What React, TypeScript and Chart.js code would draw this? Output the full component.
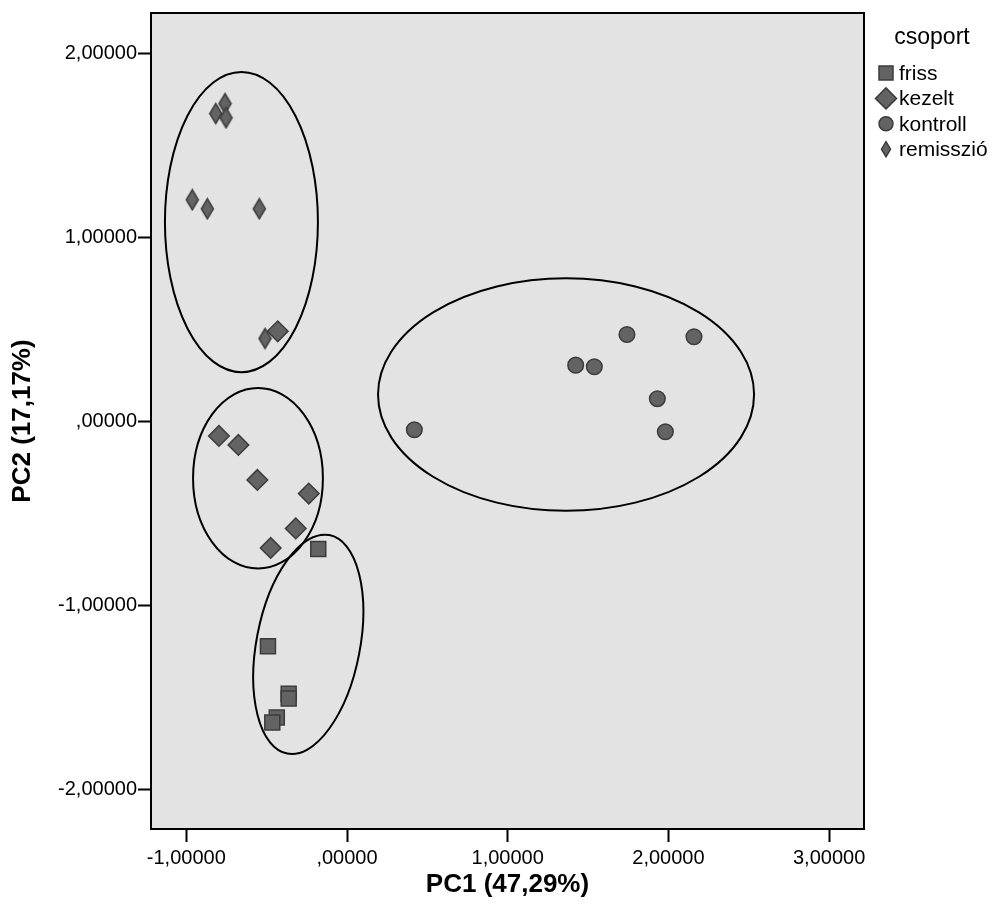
import React, { useEffect, useRef } from 'react';
import { Chart, registerables } from 'chart.js';

Chart.register(...registerables);

// ---- data ----
const groupNames = ['friss', 'kezelt', 'kontroll', 'remisszió'];
const legendTitle = 'csoport';

const frissX = [-0.179, -0.492, -0.363, -0.363, -0.437, -0.465];
const frissY = [-0.694, -1.223, -1.481, -1.508, -1.611, -1.638];

const kezeltX = [-0.431, -0.797, -0.676, -0.558, -0.238, -0.319, -0.475];
const kezeltY = [0.489, -0.080, -0.129, -0.319, -0.393, -0.583, -0.689];

const kontrollX = [0.419, 1.423, 1.539, 1.742, 2.159, 1.931, 1.981];
const kontrollY = [-0.046, 0.305, 0.296, 0.472, 0.459, 0.122, -0.057];

const remisszioX = [-0.759, -0.817, -0.753, -0.963, -0.869, -0.546, -0.510];
const remisszioY = [1.727, 1.673, 1.650, 1.204, 1.155, 1.155, 0.450];

const xTickValues = [-1, 0, 1, 2, 3];
const xTickLabels = ['-1,00000', ',00000', '1,00000', '2,00000', '3,00000'];
const yTickValues = [-2, -1, 0, 1, 2];
const yTickLabels = ['-2,00000', '-1,00000', ',00000', '1,00000', '2,00000'];
const xRange = [-1.2197, 3.217];
const yRange = [-2.217, 2.2196];
const xTitle = 'PC1 (47,29%)';
const yTitle = 'PC2 (17,17%)';

// ellipses (data units; rotation in degrees on screen)
const ellipseCx = [-0.657, -0.554, -0.241, 1.363];
const ellipseCy = [1.083, -0.31, -1.213, 0.145];
const ellipseRx = [0.476, 0.404, 0.322, 1.17];
const ellipseRy = [0.816, 0.491, 0.605, 0.632];
const ellipseRot = [0, 0, 10.9, 0];

// ---- styles ----
const FONT = '"Liberation Sans", Arial, Helvetica, sans-serif';
const FILL = '#636363';
const BORDER = '#3c3c3c';
const PLOT_BG = '#e3e3e3';

function toPoints(xs: number[], ys: number[]) {
  return xs.map((x, i) => ({ x, y: ys[i] }));
}

function makeThinDiamond(w: number, h: number): HTMLCanvasElement {
  const c = document.createElement('canvas');
  c.width = w + 3;
  c.height = h + 3;
  const g = c.getContext('2d')!;
  const cx = c.width / 2;
  const cy = c.height / 2;
  g.beginPath();
  g.moveTo(cx, cy - h / 2);
  g.lineTo(cx + w / 2, cy);
  g.lineTo(cx, cy + h / 2);
  g.lineTo(cx - w / 2, cy);
  g.closePath();
  g.fillStyle = FILL;
  g.fill();
  g.lineWidth = 1.5;
  g.strokeStyle = BORDER;
  g.stroke();
  return c;
}

function drawLegendSymbol(ctx: CanvasRenderingContext2D, kind: number, x: number, y: number) {
  ctx.save();
  ctx.fillStyle = FILL;
  ctx.strokeStyle = BORDER;
  ctx.lineWidth = 1.5;
  ctx.beginPath();
  if (kind === 0) {
    ctx.rect(x - 7, y - 7, 14, 14);
  } else if (kind === 1) {
    ctx.moveTo(x, y - 10.5);
    ctx.lineTo(x + 10.5, y);
    ctx.lineTo(x, y + 10.5);
    ctx.lineTo(x - 10.5, y);
    ctx.closePath();
  } else if (kind === 2) {
    ctx.arc(x, y, 7, 0, Math.PI * 2);
  } else {
    ctx.moveTo(x, y - 7.5);
    ctx.lineTo(x + 4.5, y);
    ctx.lineTo(x, y + 7.5);
    ctx.lineTo(x - 4.5, y);
    ctx.closePath();
  }
  ctx.fill();
  ctx.stroke();
  ctx.restore();
}

const backgroundPlugin = {
  id: 'plotBackground',
  beforeDraw(chart: any) {
    const { ctx, chartArea } = chart;
    ctx.save();
    ctx.fillStyle = '#ffffff';
    ctx.fillRect(0, 0, chart.width, chart.height);
    ctx.fillStyle = PLOT_BG;
    ctx.fillRect(chartArea.left, chartArea.top, chartArea.right - chartArea.left, chartArea.bottom - chartArea.top);
    ctx.restore();
  },
};

const ellipsePlugin = {
  id: 'groupEllipses',
  beforeDatasetsDraw(chart: any) {
    const { ctx } = chart;
    const xs = chart.scales.x;
    const ys = chart.scales.y;
    ctx.save();
    ctx.strokeStyle = '#000000';
    ctx.lineWidth = 2;
    for (let i = 0; i < ellipseCx.length; i++) {
      const px = xs.getPixelForValue(ellipseCx[i]);
      const py = ys.getPixelForValue(ellipseCy[i]);
      const rx = Math.abs(xs.getPixelForValue(ellipseCx[i] + ellipseRx[i]) - px);
      const ry = Math.abs(ys.getPixelForValue(ellipseCy[i] + ellipseRy[i]) - py);
      ctx.beginPath();
      ctx.ellipse(px, py, rx, ry, (ellipseRot[i] * Math.PI) / 180, 0, Math.PI * 2);
      ctx.stroke();
    }
    ctx.restore();
  },
};

const framePlugin = {
  id: 'plotFrame',
  afterDraw(chart: any) {
    const { ctx, chartArea } = chart;
    ctx.save();
    ctx.strokeStyle = '#000000';
    ctx.lineWidth = 2;
    ctx.strokeRect(chartArea.left, chartArea.top, chartArea.right - chartArea.left, chartArea.bottom - chartArea.top);
    ctx.restore();
  },
};

const legendPlugin = {
  id: 'groupLegend',
  afterDraw(chart: any) {
    const { ctx, chartArea } = chart;
    const x0 = chartArea.right;
    ctx.save();
    ctx.fillStyle = '#000000';
    ctx.textBaseline = 'middle';
    ctx.textAlign = 'center';
    ctx.font = `23px ${FONT}`;
    ctx.fillText(legendTitle, x0 + 68, 38);
    ctx.font = `21px ${FONT}`;
    ctx.textAlign = 'left';
    chart.data.datasets.forEach((ds: any, i: number) => {
      const cy = 73 + i * 25.4;
      drawLegendSymbol(ctx, i, x0 + 22, cy);
      ctx.fillStyle = '#000000';
      ctx.fillText(ds.label, x0 + 35, cy + 1);
    });
    ctx.restore();
  },
};

export default function App() {
  const canvasRef = useRef<HTMLCanvasElement | null>(null);

  useEffect(() => {
    const canvas = canvasRef.current;
    if (!canvas) return;
    const thinDiamond = makeThinDiamond(12, 20);

    const common = {
      backgroundColor: FILL,
      borderColor: BORDER,
      borderWidth: 1.5,
      showLine: false,
    };

    const chart = new Chart(canvas, {
      type: 'scatter',
      data: {
        datasets: [
          { ...common, label: groupNames[0], data: toPoints(frissX, frissY), pointStyle: 'rect', pointRadius: 10.6 },
          { ...common, label: groupNames[1], data: toPoints(kezeltX, kezeltY), pointStyle: 'rectRot', pointRadius: 10.3 },
          { ...common, label: groupNames[2], data: toPoints(kontrollX, kontrollY), pointStyle: 'circle', pointRadius: 7.8 },
          { ...common, label: groupNames[3], data: toPoints(remisszioX, remisszioY), pointStyle: thinDiamond as any, pointRadius: 10 },
        ],
      },
      options: {
        responsive: false,
        animation: false,
        devicePixelRatio: 1,
        events: [],
        layout: { padding: { top: 11, right: 128, bottom: 0, left: 0 } },
        plugins: {
          legend: { display: false },
          tooltip: { enabled: false },
        },
        scales: {
          x: {
            type: 'linear',
            min: xRange[0],
            max: xRange[1],
            afterBuildTicks: (s: any) => {
              s.ticks = xTickValues.map((v) => ({ value: v }));
            },
            afterFit: (s: any) => {
              s.height = 91;
            },
            ticks: {
              autoSkip: false,
              maxRotation: 0,
              padding: 4,
              color: '#000000',
              font: { family: FONT, size: 20 },
              callback: (v: any) => xTickLabels[xTickValues.indexOf(Number(v))] ?? '',
            },
            grid: {
              drawOnChartArea: false,
              drawTicks: true,
              tickLength: 13,
              tickWidth: 2,
              tickColor: '#000000',
            },
            border: { display: false },
            title: {
              display: true,
              text: xTitle,
              color: '#000000',
              font: { family: FONT, size: 26, weight: 'bold' },
              padding: { top: 0, bottom: 20 },
            },
          },
          y: {
            type: 'linear',
            min: yRange[0],
            max: yRange[1],
            afterBuildTicks: (s: any) => {
              s.ticks = yTickValues.map((v) => ({ value: v }));
            },
            afterFit: (s: any) => {
              s.width = 151;
            },
            ticks: {
              autoSkip: false,
              padding: 1,
              color: '#000000',
              font: { family: FONT, size: 20 },
              callback: (v: any) => yTickLabels[yTickValues.indexOf(Number(v))] ?? '',
            },
            grid: {
              drawOnChartArea: false,
              drawTicks: true,
              tickLength: 13,
              tickWidth: 2,
              tickColor: '#000000',
            },
            border: { display: false },
            title: {
              display: true,
              text: yTitle,
              color: '#000000',
              font: { family: FONT, size: 26, weight: 'bold' },
              padding: { top: 7, bottom: 0 },
            },
          },
        },
      },
      plugins: [backgroundPlugin, ellipsePlugin, framePlugin, legendPlugin],
    });

    return () => {
      chart.destroy();
    };
  }, []);

  return (
    <div style={{ position: 'absolute', left: 0, top: 0, width: 992, height: 920, background: '#ffffff' }}>
      <canvas ref={canvasRef} width={992} height={920} style={{ display: 'block' }} />
    </div>
  );
}
